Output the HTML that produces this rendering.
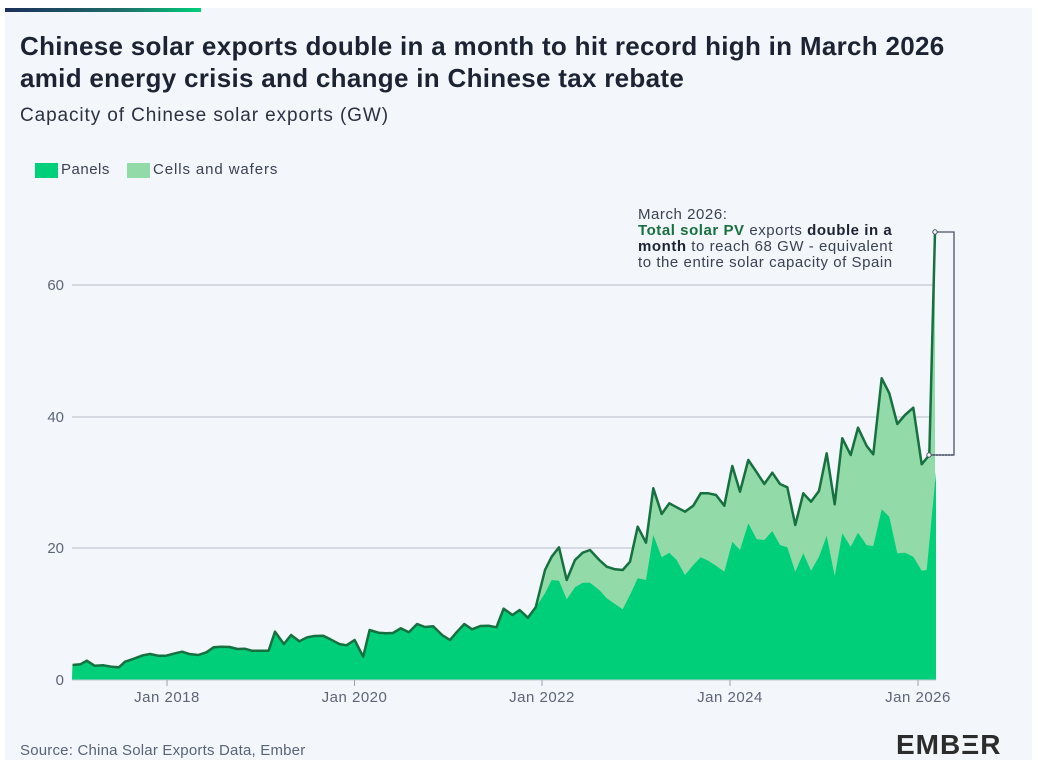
<!DOCTYPE html>
<html><head><meta charset="utf-8">
<style>
html,body{margin:0;padding:0;background:#fff;}
body{width:1038px;height:768px;position:relative;overflow:hidden;font-family:"Liberation Sans",sans-serif;}
#panel{position:absolute;left:5px;top:8px;width:1027px;height:752px;background:#f3f6fa;}
#bar{position:absolute;left:5px;top:8px;width:196px;height:4px;background:linear-gradient(90deg,#1b2f5a,#1e6f6a 60%,#00cf7a);}
.t{position:absolute;left:20px;color:#1c2333;font-weight:bold;font-size:26px;letter-spacing:0.3px;white-space:nowrap;}
</style></head><body>
<div id="panel"></div><div id="bar"></div>
<div class="t" style="top:31px">Chinese solar exports double in a month to hit record high in March 2026</div>
<div class="t" style="top:63px">amid energy crisis and change in Chinese tax rebate</div>
<div style="position:absolute;left:20px;top:105px;font-size:19px;letter-spacing:0.9px;color:#2a3142;white-space:nowrap;">Capacity of Chinese solar exports (GW)</div>
<div style="position:absolute;left:35px;top:163px;width:23px;height:15px;background:#00cf7a"></div>
<div style="position:absolute;left:61px;top:161px;font-size:15px;letter-spacing:0.5px;color:#3a4254;">Panels</div>
<div style="position:absolute;left:127px;top:163px;width:23px;height:15px;background:#92dba9"></div>
<div style="position:absolute;left:153px;top:161px;font-size:15px;letter-spacing:0.9px;color:#3a4254;white-space:nowrap;">Cells and wafers</div>
<div style="position:absolute;left:20px;top:742px;font-size:15px;letter-spacing:0.2px;color:#5a6478;white-space:nowrap;">Source: China Solar Exports Data, Ember</div>
<div style="position:absolute;left:896px;top:729px;font-size:28px;font-weight:bold;color:#2c2c2c;letter-spacing:1px;">EMB<span style="color:#2c2c2c">Ξ</span>R</div>
<svg id="s" width="1038" height="768" style="position:absolute;left:0;top:0" font-family="Liberation Sans, sans-serif"></svg>
<script>
var z3=[[203,495],[225,493],[243,482],[265,497],[290,496],[312,500],[333,502],[350,485],[375,476],[400,466],[420,462],[443,467],[465,467],[490,460],[510,455],[530,462],[555,465],[578,457],[598,442],[620,440],[643,441],[665,447],[685,446],[705,452],[730,452],[752,452],[770,395],[795,432],[815,405],[838,424],[860,412],[880,408],[905,407],[925,418],[950,432],[970,436],[993,420],[1017,470],[1035,390],[1060,398],[1080,400],[1100,399],[1122,385],[1145,397],[1168,372],[1190,381],[1213,379],[1238,405],[1260,420],[1280,395],[1300,372],[1322,388],[1345,378],[1368,377],[1390,382],[1410,326],[1435,345],[1455,330],[1478,353],[1500,322]];
var pre=z3.map(function(p){return [p[0]/2.8,500+p[1]/3];});
var z4t=[[15,630],[35,590],[57,562],[80,660],[105,600],[128,578],[150,570],[178,600],[200,620],[225,628],[248,630],[270,605],[293,500],[318,548],[340,385],[365,462],[388,430],[410,442],[435,455],[460,437],[482,400],[505,400],[528,405],[553,437],[577,318],[600,395],[625,300],[650,337],[673,372],[697,338],[720,372],[742,382],[766,495],[790,400],[813,425],[837,393],[860,280],[884,433],[907,235],[932,285],[954,203],[980,258],[1000,283],[1025,55],[1048,100],[1072,192],[1095,165],[1120,143],[1145,313],[1168,285]];
var z4p=[[15,700],[35,660],[57,662],[80,718],[105,682],[128,668],[150,668],[178,690],[200,715],[225,732],[248,748],[270,705],[293,655],[318,660],[340,525],[365,592],[388,578],[410,600],[435,645],[460,615],[482,592],[505,602],[528,617],[553,635],[577,545],[600,570],[625,490],[650,538],[673,540],[697,513],[720,555],[742,562],[766,635],[790,580],[813,632],[837,590],[860,527],[884,648],[907,520],[932,560],[954,518],[980,556],[1000,558],[1025,448],[1048,470],[1072,580],[1095,578],[1120,590],[1145,632],[1160,630],[1188,335]];
function c4(a){return a.map(function(p){return [540+p[0]/3,360+p[1]/3];});}
var tot=pre.concat(c4(z4t)).concat([[935,232]]);
var pan=pre.concat(c4(z4p));
function pts(a){return a.map(function(p){return p[0].toFixed(1)+','+p[1].toFixed(1);}).join(' ');}
var h='';
[[0,680],[20,548],[40,417],[60,285]].forEach(function(g){
 if(g[0]>0)h+='<line x1="72" x2="935" y1="'+g[1]+'" y2="'+g[1]+'" stroke="#c3c9d4" stroke-width="1.3"/>';
 h+='<text x="64" y="'+(g[1]+5)+'" text-anchor="end" font-size="15" fill="#5d6577">'+g[0]+'</text>';
});
h+='<polygon points="72,680 '+pts(tot)+' 935,680" fill="#92dba9"/>';
h+='<polygon points="72,680 '+pts(pan)+' 936,680" fill="#00cf7a"/>';
h+='<polyline points="'+pts(tot)+'" fill="none" stroke="#17703f" stroke-width="2.5" stroke-linejoin="round"/>';
h+='<line x1="72" x2="936" y1="680" y2="680" stroke="#c3c9d4" stroke-width="1"/>';
[['Jan 2018',167],['Jan 2020',354.5],['Jan 2022',542],['Jan 2024',730],['Jan 2026',918]].forEach(function(t){
 h+='<line x1="'+t[1]+'" x2="'+t[1]+'" y1="680" y2="686" stroke="#9aa2b0"/>';
 h+='<text x="'+t[1]+'" y="702" text-anchor="middle" font-size="15" letter-spacing="0.5" fill="#5d6577">'+t[0]+'</text>';
});
h+='<polyline points="935,232 954,232 954,455 930,455" fill="none" stroke="#4a5366" stroke-width="1.3"/>';
h+='<line x1="930" x2="954" y1="455" y2="455" stroke="#4a5366" stroke-width="1.5" stroke-dasharray="2,1"/>';
h+='<circle cx="935" cy="232" r="2.2" fill="#f3f6fa" stroke="#4a5366"/>';
h+='<circle cx="929" cy="455" r="2.2" fill="#f3f6fa" stroke="#4a5366"/>';
var ts='font-size="15" letter-spacing="0.55" fill="#3a4254"';
h+='<text x="638" y="219" '+ts+'>March 2026:</text>';
h+='<text x="638" y="235" '+ts+'><tspan font-weight="bold" fill="#17703f">Total solar PV</tspan> exports <tspan font-weight="bold" fill="#1c2333">double in a</tspan></text>';
h+='<text x="638" y="251" '+ts+'><tspan font-weight="bold" fill="#1c2333">month</tspan> to reach 68 GW - equivalent</text>';
h+='<text x="638" y="267" '+ts+'>to the entire solar capacity of Spain</text>';
document.getElementById('s').innerHTML=h;
</script>
</body></html>
